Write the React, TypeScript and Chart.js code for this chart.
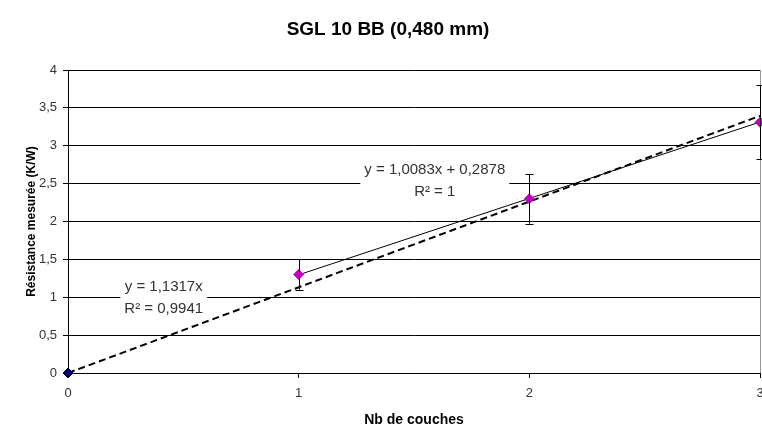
import React, { useEffect, useRef } from "react";
import { Chart, registerables } from "chart.js";

Chart.register(...registerables);

// ---- data ----
const originX = [0];
const originY = [0];
const measuredX = [1, 2, 3];
const measuredY = [1.3, 2.3, 3.31];
const measuredErr = [0.2, 0.33, 0.49];
const fitOriginX = [0, 3];
const fitOriginY = [0, 3.395];
const fitLinearX = [1, 3];
const fitLinearY = [1.296, 3.313];
const yTickLabels = ["0", "0,5", "1", "1,5", "2", "2,5", "3", "3,5", "4"];
const xTickLabels = ["0", "1", "2", "3"];
const labelLinear = ["y = 1,0083x + 0,2878", "R\u00B2 = 1"];
const labelOrigin = ["y = 1,1317x", "R\u00B2 = 0,9941"];

const FONT = "'Liberation Sans', Arial, sans-serif";

const errorBarPlugin = {
  id: "errorBars",
  afterDatasetsDraw(chart: any) {
    const { ctx, scales } = chart;
    const xs = scales.x;
    const ys = scales.y;
    ctx.save();
    ctx.strokeStyle = "#000";
    ctx.lineWidth = 1;
    measuredX.forEach((xv, i) => {
      const px = Math.round(xs.getPixelForValue(xv)) + 0.5;
      const top = ys.getPixelForValue(measuredY[i] + measuredErr[i]);
      const bot = ys.getPixelForValue(measuredY[i] - measuredErr[i]);
      ctx.beginPath();
      ctx.moveTo(px, top);
      ctx.lineTo(px, bot);
      ctx.moveTo(px - 4, Math.round(top) + 0.5);
      ctx.lineTo(px + 4, Math.round(top) + 0.5);
      ctx.moveTo(px - 4, Math.round(bot) + 0.5);
      ctx.lineTo(px + 4, Math.round(bot) + 0.5);
      ctx.stroke();
    });
    ctx.restore();
  },
};

const labelsPlugin = {
  id: "trendLabels",
  beforeDatasetsDraw(chart: any, _args: any, opts: any) {
    const { ctx, scales } = chart;
    ctx.save();
    ctx.font = `15px ${FONT}`;
    ctx.textAlign = "center";
    ctx.textBaseline = "middle";
    (opts.items || []).forEach((it: any) => {
      const cx = scales.x.getPixelForValue(it.x);
      const cy = scales.y.getPixelForValue(it.y);
      const w = Math.max(...it.lines.map((l: string) => ctx.measureText(l).width)) + 8;
      const h = it.lines.length * it.gap + 4;
      ctx.fillStyle = "#fff";
      ctx.fillRect(cx - w / 2, cy - it.gap / 2 - 4, w, h);
      ctx.fillStyle = "#333";
      it.lines.forEach((l: string, k: number) => {
        ctx.fillText(l, cx, cy + k * it.gap);
      });
    });
    ctx.restore();
  },
};

export default function App() {
  const ref = useRef<HTMLCanvasElement | null>(null);

  useEffect(() => {
    if (!ref.current) return;
    const chart = new Chart(ref.current, {
      type: "scatter",
      data: {
        datasets: [
          {
            label: "origin",
            data: originX.map((x, i) => ({ x, y: originY[i] })),
            pointStyle: "rectRot",
            pointRadius: 5,
            backgroundColor: "#000066",
            borderColor: "#000066",
            showLine: false,
            clip: false,
          },
          {
            label: "measured",
            data: measuredX.map((x, i) => ({ x, y: measuredY[i] })),
            pointStyle: "rectRot",
            pointRadius: 5,
            backgroundColor: "#C000C0",
            borderColor: "#C000C0",
            showLine: false,
            clip: false,
          },
          {
            label: "linear fit",
            data: fitLinearX.map((x, i) => ({ x, y: fitLinearY[i] })),
            showLine: true,
            borderColor: "#000",
            borderWidth: 1,
            pointRadius: 0,
          },
          {
            label: "fit through origin",
            data: fitOriginX.map((x, i) => ({ x, y: fitOriginY[i] })),
            showLine: true,
            borderColor: "#000",
            borderWidth: 2,
            borderDash: [7, 4],
            pointRadius: 0,
          },
        ],
      },
      options: {
        animation: false,
        responsive: false,
        maintainAspectRatio: false,
        layout: { autoPadding: false, padding: { left: 16, right: 2, top: 0, bottom: 0 } },
        plugins: {
          legend: { display: false },
          tooltip: { enabled: false },
          title: {
            display: true,
            text: "SGL 10 BB (0,480 mm)",
            color: "#000",
            font: { family: FONT, size: 19, weight: "bold", lineHeight: 1.2 },
            padding: { top: 18.6, bottom: 28.6 },
          },
          trendLabels: {
            items: [
              { x: 1.59, y: 2.68, gap: 22, lines: labelLinear },
              { x: 0.415, y: 1.135, gap: 22, lines: labelOrigin },
            ],
          },
        } as any,
        scales: {
          x: {
            type: "linear",
            min: 0,
            max: 3,
            afterBuildTicks: (s: any) => {
              s.ticks = xTickLabels.map((_, i) => ({ value: i }));
            },
            ticks: {
              stepSize: 1,
              color: "#333",
              font: { family: FONT, size: 13 },
              padding: 8,
              maxRotation: 0,
              callback: (_v: any, i: number) => xTickLabels[i],
            },
            grid: {
              drawOnChartArea: true,
              color: (c: any) => (c.tick && c.tick.value === 3 ? "#999" : "rgba(0,0,0,0)"),
              tickColor: "#000",
              tickLength: 5,
            },
            border: { color: "#000", width: 1 },
            title: {
              display: true,
              text: "Nb de couches",
              color: "#000",
              font: { family: FONT, size: 14, weight: "bold", lineHeight: 1 },
              padding: { top: 0, bottom: -1 },
            },
            afterFit: (s: any) => {
              s.height = 53;
              s.paddingLeft = 0;
              s.paddingRight = 0;
            },
          },
          y: {
            type: "linear",
            min: 0,
            max: 4,
            ticks: {
              stepSize: 0.5,
              color: "#333",
              font: { family: FONT, size: 13 },
              padding: 6,
              callback: (_v: any, i: number) => yTickLabels[i],
            },
            grid: {
              color: "#000",
              tickColor: "#000",
              tickLength: 5,
              lineWidth: 1,
            },
            border: { color: "#000", width: 1 },
            title: {
              display: true,
              text: "Résistance mesurée (K/W)",
              color: "#000",
              font: { family: FONT, size: 12, weight: "bold", lineHeight: 1 },
              padding: { top: 10, bottom: 0 },
            },
            afterFit: (s: any) => {
              s.width = 52;
            },
          },
        },
      },
      plugins: [errorBarPlugin, labelsPlugin],
    } as any);
    return () => chart.destroy();
  }, []);

  return (
    <div style={{ position: "absolute", left: 0, top: 0, width: 762, height: 426, background: "#fff" }}>
      <canvas ref={ref} width={762} height={426} style={{ display: "block" }} />
    </div>
  );
}
